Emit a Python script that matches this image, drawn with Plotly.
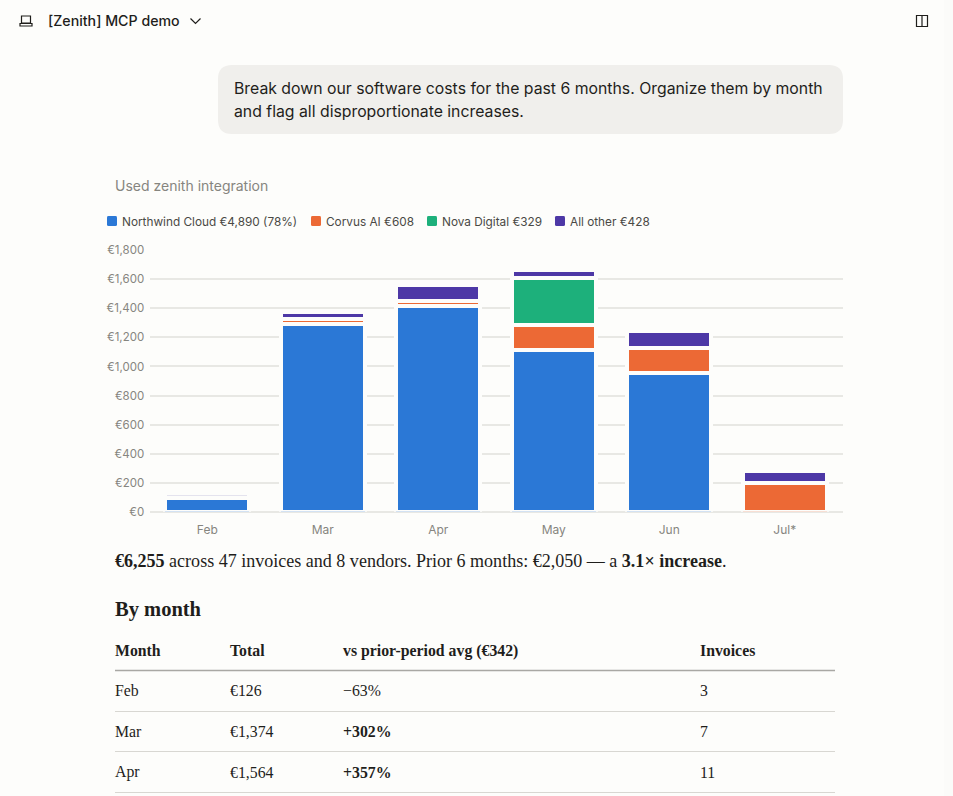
import plotly.graph_objects as go

W, H = 953, 796
BG = "#FDFDFB"
INK = "#1F1E1B"
MUTED = "#86857F"

months = ["Feb", "Mar", "Apr", "May", "Jun", "Jul*"]
northwind = [94, 1293, 1419, 1114, 958, None]
corvus = [None, 36, 34, 172, 168, 201]
nova = [None, None, None, 326, None, None]
other = [32, 45, 111, 50, 120, 76]
series_names = ["Northwind Cloud €4,890 (78%)", "Corvus AI €608", "Nova Digital €329", "All other €428"]
series_colors = ["#2B78D6", "#EC6935", "#1DB07B", "#4D38A6"]
y_ticks = [0, 200, 400, 600, 800, 1000, 1200, 1400, 1600, 1800]
y_tick_labels = ["€0", "€200", "€400", "€600", "€800", "€1,000", "€1,200", "€1,400", "€1,600", "€1,800"]

table_header = ["Month", "Total", "vs prior-period avg (€342)", "Invoices"]
table_month = ["Feb", "Mar", "Apr"]
table_total = ["€126", "€1,374", "€1,564"]
table_change = ["−63%", "<b>+302%</b>", "<b>+357%</b>"]
table_invoices = ["3", "7", "11"]


def px(x):
    return x / W


def py(y):
    return 1 - y / H


def path(cmds):
    out = []
    for c in cmds:
        if isinstance(c, str):
            out.append(c)
        else:
            out.append(f"{px(c[0]):.5f},{py(c[1]):.5f}")
    return " ".join(out)


def round_rect(x0, y0, x1, y1, r):
    return path(["M", (x0 + r, y0), "L", (x1 - r, y0), "Q", (x1, y0), (x1, y0 + r),
                 "L", (x1, y1 - r), "Q", (x1, y1), (x1 - r, y1),
                 "L", (x0 + r, y1), "Q", (x0, y1), (x0, y1 - r),
                 "L", (x0, y0 + r), "Q", (x0, y0), (x0 + r, y0), "Z"])


fig = go.Figure()
for name, vals, col in zip(series_names, [northwind, corvus, nova, other], series_colors):
    # the Feb "other" sliver shows only as a very faint line in the reference
    colour = ["#E4E3EE"] + [col] * 5 if name.startswith("All other") else col
    fig.add_bar(x=months, y=vals, name=name, showlegend=False,
                marker=dict(color=colour, line=dict(color=BG, width=4)))

shapes = []
annotations = []


def text(x, y, s, size, color=INK, family="Inter", anchor="left", weight=None):
    font = dict(size=size, color=color, family=family)
    if weight:
        font["weight"] = weight
    annotations.append(dict(x=px(x), y=py(y), xref="paper", yref="paper", text=s, showarrow=False,
                            xanchor=anchor, yanchor="middle", font=font, borderpad=0, borderwidth=0))


def stroke(cmds, color=INK, width=1.2):
    shapes.append(dict(type="path", xref="paper", yref="paper", path=path(cmds),
                       line=dict(color=color, width=width)))


def hline(x0, x1, y, color, width=1):
    shapes.append(dict(type="line", xref="paper", yref="paper", x0=px(x0), x1=px(x1), y0=py(y), y1=py(y),
                       line=dict(color=color, width=width)))


# Faint edge shading of the page at the right
shapes.append(dict(type="rect", xref="paper", yref="paper", x0=px(944), x1=1, y0=0, y1=1,
                   fillcolor="#FBFBF9", line=dict(width=0), layer="below"))

# Header
stroke(["M", (21.5, 16), "L", (30.5, 16), "L", (30.5, 23), "L", (21.5, 23), "Z"])
stroke(["M", (20, 23.5), "L", (32, 23.5), "L", (32, 26), "L", (20, 26), "Z"])
text(48, 21, "[Zenith] MCP demo", 14.2, weight=500)
stroke(["M", (190.5, 18.5), "L", (195.5, 23.5), "L", (200.5, 18.5)])
stroke(["M", (916.5, 15.5), "L", (927.5, 15.5), "L", (927.5, 26.5), "L", (916.5, 26.5), "Z", "M", (922, 15.5), "L", (922, 26.5)])

# Prompt bubble
shapes.append(dict(type="path", xref="paper", yref="paper", path=round_rect(218, 65, 843, 134, 14),
                   fillcolor="#F0EFEC", line=dict(width=0), layer="below"))
text(233.5, 88, "Break down our software costs for the past 6 months. Organize them by month", 15.8)
text(233.5, 111.6, "and flag all disproportionate increases.", 15.8)

text(115, 185.5, "Used zenith integration", 14, color=MUTED)

# Legend
legend_square_x = [107, 311, 427, 555]
legend_text_x = [122, 326, 442, 570]
for name, col, sx, tx in zip(series_names, series_colors, legend_square_x, legend_text_x):
    shapes.append(dict(type="path", xref="paper", yref="paper", path=round_rect(sx, 216, sx + 10, 226, 1.5),
                       fillcolor=col, line=dict(width=0)))
    text(tx, 222.2, name, 11.8, color="#4A4945")

# Text below the chart
text(115, 561, "<b>€6,255</b> across 47 invoices and 8 vendors. Prior 6 months: €2,050 — a <b>3.1× increase</b>.", 18.05,
     family="Liberation Serif")
text(115, 609.5, "<b>By month</b>", 20.5, family="Liberation Serif")

col_x = [115, 230, 343, 700]
for x, h in zip(col_x, table_header):
    text(x, 650.5, f"<b>{h}</b>", 15.8, family="Liberation Serif")
hline(115, 835, 670.5, "#A9A8A4", 1.3)
rows = list(zip(table_month, table_total, table_change, table_invoices))
for (row, y_text, y_line) in zip(rows, [690.6, 731.6, 772], [711.5, 751.5, 792.5]):
    for x, v in zip(col_x, row):
        text(x, y_text, v, 15.8, family="Liberation Serif")
    hline(115, 835, y_line, "#D8D7D2", 1)

fig.update_layout(
    width=W, height=H, autosize=False,
    margin=dict(l=0, r=0, t=0, b=0, pad=0),
    paper_bgcolor=BG, plot_bgcolor=BG,
    barmode="stack", bargap=0.273,
    showlegend=False,
    shapes=shapes, annotations=annotations,
    font=dict(family="Inter", color=MUTED, size=12),
    xaxis=dict(domain=[149.5 / W, 842.5 / W], type="category", showgrid=False, zeroline=False,
               showline=False, ticks="outside", ticklen=7, tickcolor="rgba(0,0,0,0)",
               tickfont=dict(size=12, color=MUTED), automargin=False, fixedrange=True),
    yaxis=dict(domain=[1 - 511.7 / H, 1 - 250.3 / H], range=[0, 1800], tickmode="array",
               tickvals=y_ticks, ticktext=y_tick_labels,
               showgrid=True, gridcolor="#E8E8E4", gridwidth=2,
               zeroline=True, zerolinecolor="#E8E8E4", zerolinewidth=2,
               ticks="outside", ticklen=2, tickcolor="rgba(0,0,0,0)",
               tickfont=dict(size=11.5, color=MUTED), automargin=False, fixedrange=True),
)

fig.write_html("out.html", config=dict(displayModeBar=False),
               post_script="document.body.style.margin='0';document.documentElement.style.overflow='hidden';")
